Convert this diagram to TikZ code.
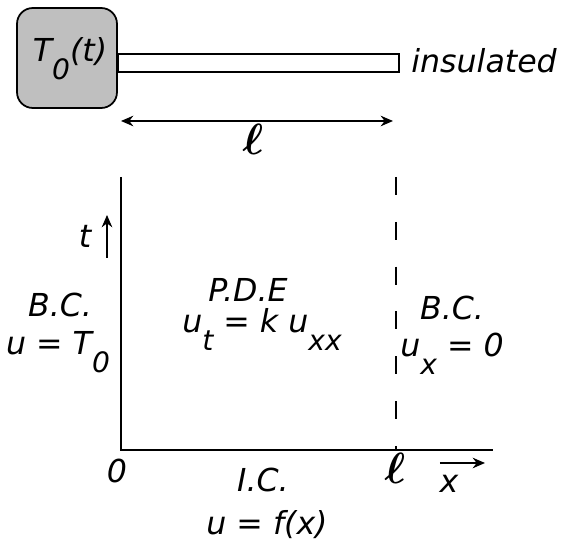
\documentclass[tikz,border=0pt]{standalone}
\usepackage{fontspec}
\setmainfont{DejaVu Sans}
\usetikzlibrary{arrows.meta}
\newcommand{\lo}[1]{\raisebox{-1.0ex}{\fontsize{16}{18}\selectfont #1}}
\newcommand{\ellb}{{\fontsize{24}{26}\selectfont\boldmath$\ell$}}
\tikzset{
  txt/.style={font=\fontsize{18}{21}\selectfont\itshape, inner sep=0pt, anchor=base},
  bar/.style={line width=1pt},
  ax/.style={line width=1.4pt},
}
\begin{document}
\begin{tikzpicture}[x=0.02cm,y=-0.02cm,>={Stealth[length=7pt,width=6pt]}]
\useasboundingbox (0,0) rectangle (566,544);
% heat source and insulated rod
\node[draw,bar,fill=black!25,rounded corners=9pt,minimum width=2cm,minimum height=2cm,inner sep=0pt] (src) at (67,58) {};
\node[txt] (Tt) at (70,62) {T\lo{0}(t)};
\node[draw,bar,minimum width=5.62cm,minimum height=0.36cm,inner sep=0pt,anchor=west] (rod) at (117,63) {};
\node[txt,anchor=base west] (ins) at (411,73) {insulated};
\coordinate (l1) at (121,121); \coordinate (l2) at (393,121);
\draw[<->,bar] (l1) -- (l2);
\node[txt] (lrod) at (253,155) {\ellb};
% axes of the (x,t) domain
\coordinate (O) at (121,450); \coordinate (ytop) at (121,177);
\coordinate (xend) at (493,450);
\coordinate (L) at (396,450); \coordinate (Ltop) at (396,177);
\draw[ax] (ytop) -- (O) -- (xend);
\draw[bar,dash pattern=on 10.2pt off 15.3pt] (Ltop) -- (L);
\coordinate (t0) at (107,258); \coordinate (t1) at (107,215);
\draw[->,bar] (t0) -- (t1);
\node[txt] (tl) at (85,248) {t};
\coordinate (x0) at (440,463); \coordinate (x1) at (485,463);
\draw[->,bar] (x0) -- (x1);
\node[txt] (xl) at (449,493) {x};
% conditions
\node[txt] (bcl) at (60,317) {B.C.};
\node[txt] (bcl2) at (58,355) {u = T\lo{0}};
\node[txt] (pde) at (248,302) {P.D.E};
\node[txt] (pde2) at (262,333) {u\lo{t} = k u\lo{xx}};
\node[txt] (bcr) at (452,320) {B.C.};
\node[txt] (bcr2) at (452,357) {u\lo{x} = 0};
\node[txt] (zero) at (117,483) {0};
\node[txt] (lax) at (395,484) {\ellb};
\node[txt] (ic) at (263,492) {I.C.};
\node[txt] (ic2) at (267,535) {u = f(x)};
\end{tikzpicture}
\end{document}
